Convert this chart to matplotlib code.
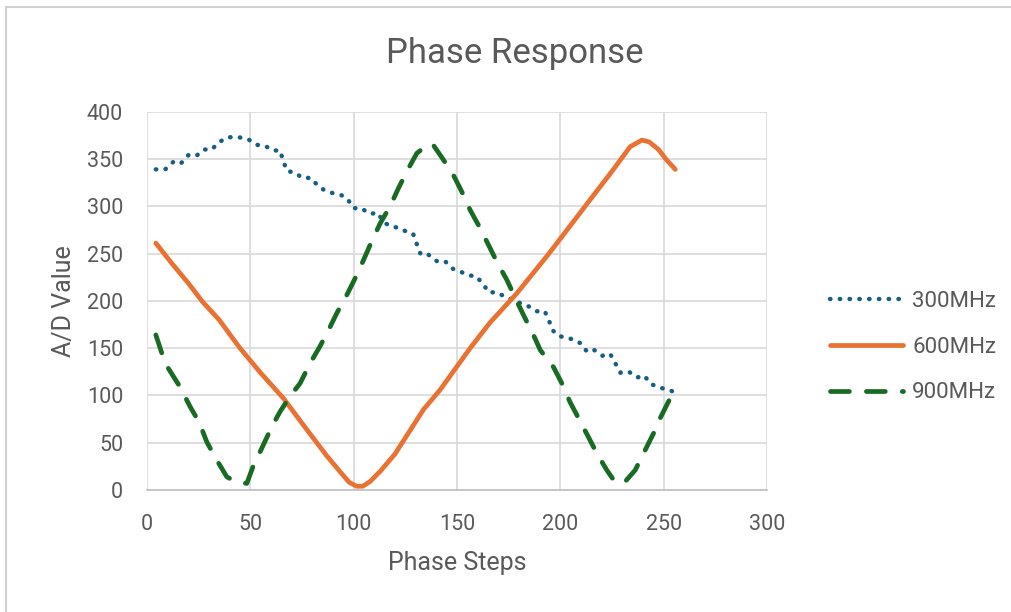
import matplotlib
matplotlib.use("Agg")
import matplotlib.pyplot as plt
from matplotlib.patches import Rectangle

plt.rcParams['font.family'] = ['Roboto', 'DejaVu Sans']

# 300 MHz sweep (stepped, slowly falling)
x300 = [4.4, 8.9, 12.9, 16.4, 20.1, 23.8, 27.7, 31.4, 35.1, 39.3, 44.5, 49.0,
        53.0, 57.1, 61.0, 64.5, 66.1, 68.0, 71.3, 75.3, 79.3, 82.7, 85.9, 89.8,
        93.9, 97.0, 100.0, 103.7, 107.9, 111.8, 114.5, 118.0, 122.0, 125.8,
        128.8, 130.6, 132.5, 136.1, 140.3, 144.2, 148.0, 151.6, 155.6, 159.3,
        162.6, 165.4, 169.3, 173.5, 177.4, 181.2, 184.8, 188.7, 192.5, 194.5,
        196.7, 199.1, 202.9, 206.7, 209.9, 213.0, 216.4, 220.4, 224.1, 226.6,
        229.1, 233.2, 237.2, 240.6, 243.8, 247.5, 251.4, 255.0]
y300 = [339, 339, 347, 345, 354, 353, 360, 360, 368, 373, 373, 371,
        365, 364, 359, 359, 347, 337, 336, 330, 330, 322, 317, 314,
        312, 308, 298, 298, 292, 293, 283, 279, 277, 273,
        271, 260, 249, 249, 242, 242, 234, 231, 227, 226,
        218, 209, 209, 204, 201, 197, 194, 189, 189, 179,
        168, 163, 161, 159, 155, 146, 148, 142, 144, 134,
        124, 125, 119, 121, 112, 109, 106, 104]

# 600 MHz sweep
x600 = [4.4, 12.0, 20.0, 27.0, 35.0, 45.1, 55.0, 66.1, 76.0, 87.1, 94.0,
        98.0, 101.5, 104.5, 108.0, 113.0, 120.0, 133.8, 141.9, 156.4, 166.0,
        179.0, 194.5, 205.0, 215.5, 225.0, 233.8, 239.5, 243.0, 247.5, 251.0,
        255.6]
y600 = [261, 240, 219, 199, 180, 150, 124, 97, 68, 36, 18,
        8, 4, 4, 9, 20, 38, 85, 106, 150, 177,
        208, 250, 280, 310, 337, 363, 370, 368, 360, 350,
        339]

# 900 MHz sweep
x900 = [4.4, 8.9, 16.1, 21.0, 25.5, 29.0, 33.5, 38.7, 43.5, 48.4, 51.6, 55.6,
        60.5, 64.5, 69.3, 74.2, 79.0, 83.8, 87.9, 91.9, 96.7, 100.8, 104.8,
        108.8, 112.9, 117.7, 121.7, 125.8, 130.6, 136.3, 138.5, 143.5, 148.3,
        152.9, 156.4, 161.2, 165.3, 169.6, 174.2, 178.2, 182.2, 187.0, 190.3,
        196.7, 200.7, 204.7, 208.8, 213.6, 217.6, 222.5, 226.0, 228.2, 231.0,
        236.2, 240.3, 245.1, 248.3, 253.1, 255.6]
y900 = [164, 134, 109, 88, 71, 51, 33, 14, 8, 7, 26, 44,
        67, 83, 99, 113, 134, 152, 169, 187, 206, 224, 243,
        263, 282, 300, 319, 337, 356, 366, 365, 349, 333,
        313, 296, 277, 259, 240, 222, 203, 185, 164, 148,
        130, 113, 93, 76, 56, 39, 21, 10, 7, 8,
        21, 39, 60, 76, 97, 106]

x_ticks = [0, 50, 100, 150, 200, 250, 300]
y_ticks = [0, 50, 100, 150, 200, 250, 300, 350, 400]

text_color = '#595959'
grid_color = '#d9d9d9'

fig = plt.figure(figsize=(10.12, 6.12), dpi=100)
ax = fig.add_axes([0.145, 0.1993, 0.613, 0.6182])

ax.plot(x300, y300, color='#156082', lw=3.2, linestyle=(0, (0.1, 2.1)),
        dash_capstyle='round', label='300MHz')
ax.plot(x600, y600, color='#e97132', lw=3.4, solid_capstyle='round',
        solid_joinstyle='round', label='600MHz')
ax.plot(x900, y900, color='#196b24', lw=3.4, linestyle=(0, (4.0, 3.6)),
        dash_capstyle='round', label='900MHz')

ax.set_xlim(0, 300)
ax.set_ylim(0, 400)
ax.set_xticks(x_ticks)
ax.set_yticks(y_ticks)
ax.grid(True, color=grid_color, lw=1.2)
ax.set_axisbelow(True)
ax.tick_params(length=0, labelsize=15.5, colors=text_color, pad=17)
for side in ['top', 'right', 'left']:
    ax.spines[side].set_visible(False)
ax.spines['bottom'].set_color('#bfbfbf')
ax.spines['bottom'].set_linewidth(1.2)

ax.set_xlabel('Phase Steps', fontsize=18, color=text_color, labelpad=12)
ax.set_ylabel('A/D Value', fontsize=18, color=text_color, labelpad=8)
fig.text(0.509, 0.913, 'Phase Response', ha='center', va='center',
         fontsize=25, color=text_color)

leg = ax.legend(loc='center left', bbox_to_anchor=(1.1016, 0.378),
                frameon=False, fontsize=16, handlelength=3.3,
                handletextpad=0.4, labelspacing=1.12, borderpad=0,
                borderaxespad=0, labelcolor=text_color)

# chart area border
fig.patches.append(Rectangle((6 / 1012, -0.1), 1.2, 1.1 - 6.5 / 612,
                             transform=fig.transFigure, fill=False,
                             edgecolor='#d0d0d0', lw=1.5))

fig.savefig('out.png', dpi=100)
